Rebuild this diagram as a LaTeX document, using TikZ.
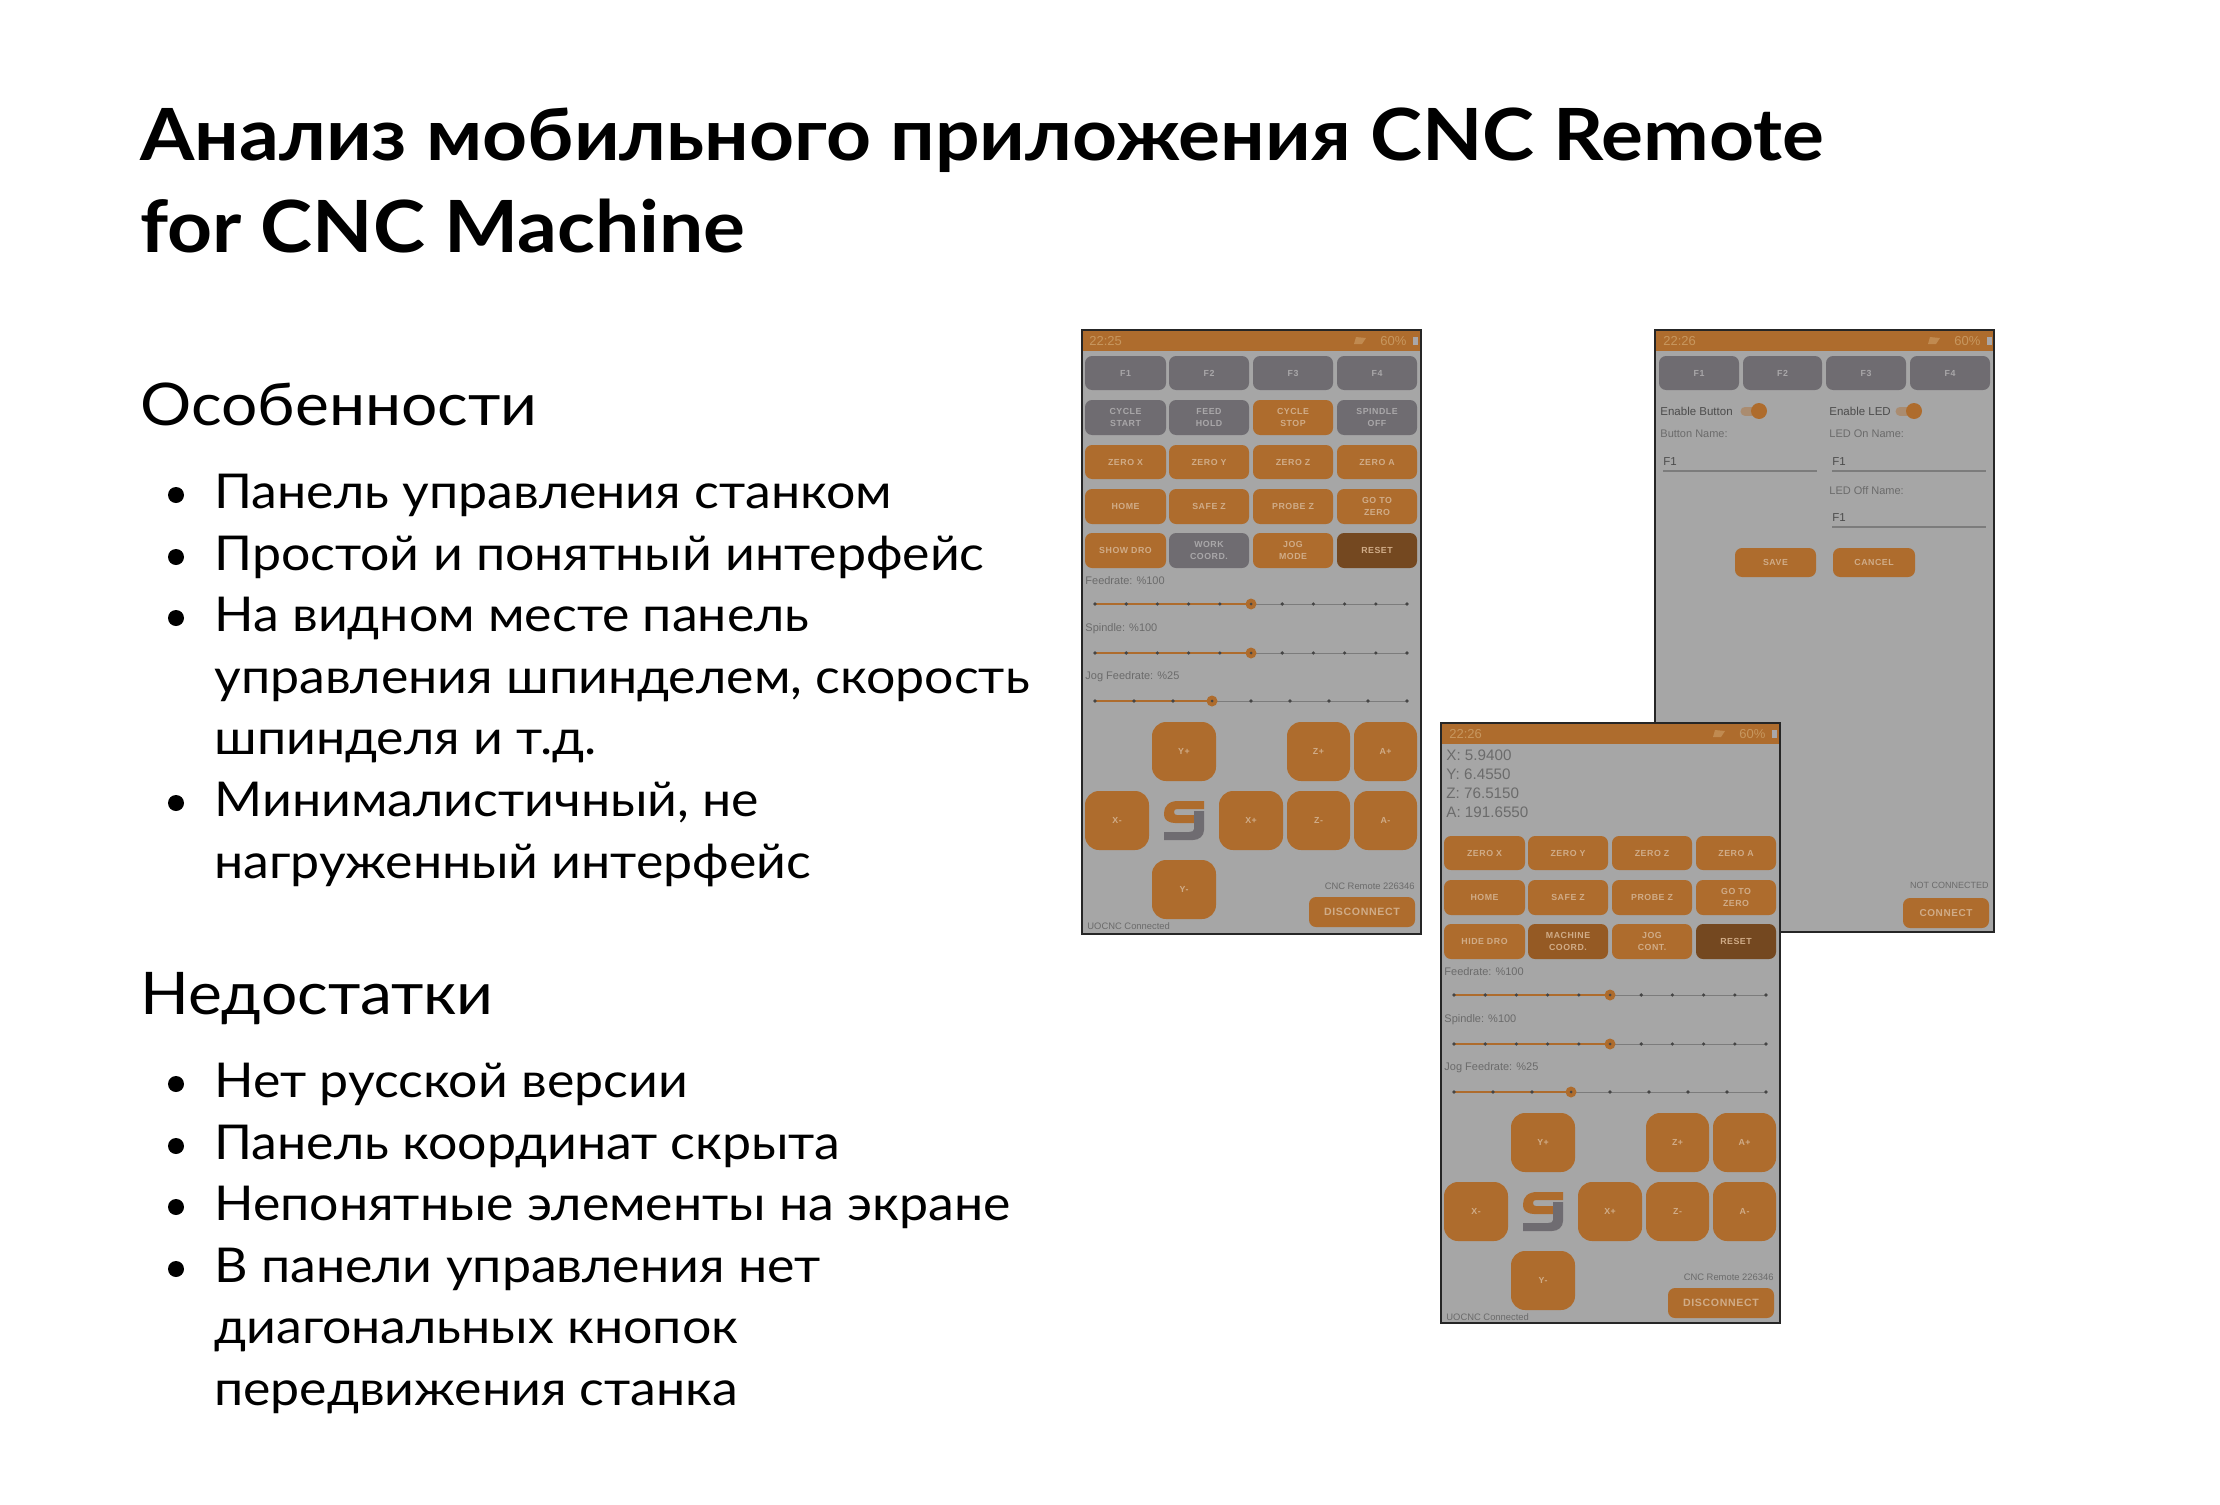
\documentclass[tikz,border=0pt]{standalone}
\usepackage{fontspec}
\setmainfont{Lato}[FakeStretch=1.09]
\newfontfamily\itemfont{Lato}[FakeStretch=1.08]
\newfontfamily\uifont[LetterSpace=6]{Liberation Sans}
\newfontfamily\uifontb[LetterSpace=6]{Liberation Sans Bold}
\newfontfamily\lblfont{Liberation Sans}
\definecolor{screenbg}{HTML}{A6A6A6}
\definecolor{barorange}{HTML}{AE6C2D}
\definecolor{btnorange}{HTML}{AE6C2D}
\definecolor{btngrey}{HTML}{6F6C71}
\definecolor{btndark}{HTML}{744820}
\definecolor{btnmid}{HTML}{955A24}
\definecolor{lblon}{HTML}{D0AC88}
\definecolor{lblbar}{HTML}{C7975F}
\definecolor{lblgrey}{HTML}{A9A7A9}
\definecolor{txtgrey}{HTML}{6B6B6B}
\definecolor{txtdark}{HTML}{4C4C4C}
\definecolor{tickdark}{HTML}{454545}
\definecolor{linegrey}{HTML}{7C7C7C}
\newcommand\pfx{p}
\newcommand\Btn[7]{%
  \pgfmathsetmacro\bw{(#4-#2)*0.5}\pgfmathsetmacro\bh{(#5-#3)*0.5}%
  \node[btnbase,#6,minimum width=\bw pt,minimum height=\bh pt] (\pfx#1) at ({(#2+#4)/2},{(#3+#5)/2}) {#7};}
\newcommand\Slider[3]{%
  \draw[trackoff] (1095,#2) -- (1407,#2);
  \draw[trackon] (1095,#2) -- (#3,#2);
}
\newcommand\Ticks[2]{%
  \foreach \tx in {#2} {\fill[tickdark] (\tx,#1) circle (1.8);}}
\newcommand\Thumb[3]{%
  \node[thumbdot] (\pfx#1) at (#2,#3) {};
  \fill[tickdark] (#2,#3) circle (1.5);}
\newcommand\Lower[4]{%
  \Btn{zx}{1085}{445}{1166}{479}{oran}{ZERO X}
  \Btn{zy}{1169}{445}{1249}{479}{oran}{ZERO Y}
  \Btn{zz}{1253}{445}{1333}{479}{oran}{ZERO Z}
  \Btn{za}{1337}{445}{1417}{479}{oran}{ZERO A}
  \Btn{home}{1085}{489}{1166}{524}{oran}{HOME}
  \Btn{safe}{1169}{489}{1249}{524}{oran}{SAFE Z}
  \Btn{probe}{1253}{489}{1333}{524}{oran}{PROBE Z}
  \Btn{goto}{1337}{489}{1417}{524}{oran}{GO TO\\ZERO}
  \Btn{dro}{1085}{533}{1166}{568}{oran}{#1}
  \Btn{coord}{1169}{533}{1249}{568}{#3}{#2}
  \Btn{jogb}{1253}{533}{1333}{568}{oran}{JOG\\#4}
  \Btn{reset}{1337}{533}{1417}{568}{dark}{RESET}
  \node[lbl,anchor=west] (\pfx feed) at (1085,581) {Feedrate: \%100};
  \Slider{f}{604}{1251}
  \Ticks{604}{1095,1126.2,1157.4,1188.6,1219.8,1282.2,1313.4,1344.6,1375.8,1407}
  \Thumb{ft}{1251}{604}
  \node[lbl,anchor=west] (\pfx spin) at (1085,629) {Spindle: \%100};
  \Slider{s}{653}{1251}
  \Ticks{653}{1095,1126.2,1157.4,1188.6,1219.8,1282.2,1313.4,1344.6,1375.8,1407}
  \Thumb{st}{1251}{653}
  \node[lbl,anchor=west] (\pfx jog) at (1085,677) {Jog Feedrate: \%25};
  \Slider{j}{701}{1212}
  \Ticks{701}{1095,1134,1173,1251,1290,1329,1368,1407}
  \Thumb{jt}{1212}{701}
  \Btn{yp}{1152}{722}{1216}{781}{jogbtn}{Y+}
  \Btn{zp}{1287}{722}{1350}{781}{jogbtn}{Z+}
  \Btn{ap}{1354}{722}{1417}{781}{jogbtn}{A+}
  \Btn{xm}{1085}{791}{1149}{850}{jogbtn}{X-}
  \Btn{xp}{1219}{791}{1283}{850}{jogbtn}{X+}
  \Btn{zm}{1287}{791}{1350}{850}{jogbtn}{Z-}
  \Btn{am}{1354}{791}{1417}{850}{jogbtn}{A-}
  \Btn{ym}{1152}{860}{1216}{919}{jogbtn}{Y-}
  \fill[btnorange] (1204,801) -- (1178,801) .. controls (1169,801) and (1164,806) .. (1164,813)
     -- (1164,815) .. controls (1164,820) and (1169,823) .. (1175,823) -- (1194,823) -- (1194,815)
     -- (1177,815) .. controls (1175,815) and (1174,814) .. (1174,812)
     .. controls (1174,810) and (1175,809) .. (1177,809) -- (1204,809) -- cycle;
  \fill[btngrey] (1194,811) -- (1204,811) -- (1204,830) .. controls (1204,836) and (1199,840) .. (1193,840)
     -- (1164,840) -- (1164,832) -- (1189,832) .. controls (1192,832) and (1194,831) .. (1194,829) -- cycle;
  \node[lblsmall,anchor=east] (\pfx ver) at (1415,886) {CNC Remote 226346};
  \Btn{disc}{1309}{897}{1415}{927}{oran,font=\uifontb\fontsize{5.3}{7}\selectfont}{DISCONNECT}
  \node[lblsmall,anchor=west] (\pfx conn) at (1087,926) {UOCNC Connected};
}
\newcommand\StatusIcons[2]{%
  \node[statustxt,anchor=west] (\pfx pct) at (#1,#2) {60\%};
  \fill[lblgrey] (#1+33,#2-4) rectangle (#1+38,#2+4);
  \fill[lblbar!70!barorange] (#1-26,#2+3) -- (#1-18,#2+3) -- (#1-14,#2-3) -- (#1-24,#2-4) -- cycle;
}
\begin{document}
\begin{tikzpicture}[x=0.5pt,y=-0.5pt,
  ttl/.style={inner sep=0,anchor=base west,font=\fontsize{36}{40}\bfseries\selectfont},
  sect/.style={inner sep=0,anchor=base west,font=\fontsize{29.4}{32}\selectfont},
  item/.style={inner sep=0,anchor=base west,font=\itemfont\fontsize{24}{28}\selectfont},
  bul/.style={circle,fill=black,inner sep=0,minimum size=8pt},
  frm/.style={draw=black!85,line width=1pt},
  screen/.style={fill=screenbg},
  btnbase/.style={inner sep=0,outer sep=0,align=center,rounded corners=3.5pt,text=lblon,
     font=\uifontb\fontsize{4.4}{6}\selectfont},
  oran/.style={fill=btnorange},
  gray/.style={fill=btngrey,text=lblgrey},
  dark/.style={fill=btndark},
  midb/.style={fill=btnmid},
  jogbtn/.style={fill=btnorange,rounded corners=7pt},
  lbl/.style={inner sep=0,text=txtgrey,font=\lblfont\fontsize{5.5}{7}\selectfont},
  lblsmall/.style={inner sep=0,text=txtgrey,font=\lblfont\fontsize{4.7}{6}\selectfont},
  lbldark/.style={inner sep=0,text=txtdark,font=\lblfont\fontsize{5.75}{7}\selectfont},
  statustxt/.style={inner sep=0,text=lblbar,font=\lblfont\fontsize{6.5}{8}\selectfont},
  trackoff/.style={draw=linegrey,line width=0.45pt},
  trackon/.style={draw=btnorange,line width=0.8pt},
  thumbdot/.style={circle,fill=btnorange,inner sep=0,minimum size=5.5pt},
  uline/.style={draw=linegrey,line width=0.7pt},
]
\useasboundingbox (0,0) rectangle (2220,1504);
\fill[white] (0,0) rectangle (2220,1504);

% title
\node[ttl] (t1) at (140,160) {Анализ мобильного приложения CNC Remote};
\node[ttl] (t2) at (140,252) {for CNC Machine};

% lists
\node[sect] (h1) at (140,425) {Особенности};
\node[item] (a1) at (214,508) {Панель управления станком};
\node[item] (a2) at (214,570) {Простой и понятный интерфейс};
\node[item] (a3) at (214,631) {На видном месте панель};
\node[item] (a3b) at (214,693) {управления шпинделем, скорость};
\node[item] (a3c) at (214,754) {шпинделя и т.д.};
\node[item] (a4) at (214,816) {Минималистичный, не};
\node[item] (a4b) at (214,878) {нагруженный интерфейс};
\node[bul] (ba1) at (176,495) {};
\node[bul] (ba2) at (176,557) {};
\node[bul] (ba3) at (176,618) {};
\node[bul] (ba4) at (176,803) {};

\node[sect] (h2) at (140,1014) {Недостатки};
\node[item] (b1) at (214,1097) {Нет русской версии};
\node[item] (b2) at (214,1159) {Панель координат скрыта};
\node[item] (b3) at (214,1220) {Непонятные элементы на экране};
\node[item] (b4) at (214,1282) {В панели управления нет};
\node[item] (b4b) at (214,1343) {диагональных кнопок};
\node[item] (b4c) at (214,1405) {передвижения станка};
\node[bul] (bb1) at (176,1084) {};
\node[bul] (bb2) at (176,1146) {};
\node[bul] (bb3) at (176,1207) {};
\node[bul] (bb4) at (176,1269) {};

% phone 1
\renewcommand\pfx{m}
\fill[screen] (1082,330) rectangle (1421,934);
\fill[barorange] (1082,330) rectangle (1421,351);
\node[statustxt,anchor=west] (mtime) at (1089,341) {22:25};
\StatusIcons{1380}{341}
\Btn{f1}{1085}{356}{1166}{390}{gray}{F1}
\Btn{f2}{1169}{356}{1249}{390}{gray}{F2}
\Btn{f3}{1253}{356}{1333}{390}{gray}{F3}
\Btn{f4}{1337}{356}{1417}{390}{gray}{F4}
\Btn{cs}{1085}{400}{1166}{435}{gray}{CYCLE\\START}
\Btn{fh}{1169}{400}{1249}{435}{gray}{FEED\\HOLD}
\Btn{cst}{1253}{400}{1333}{435}{oran}{CYCLE\\STOP}
\Btn{so}{1337}{400}{1417}{435}{gray}{SPINDLE\\OFF}
\Lower{SHOW DRO}{WORK\\COORD.}{gray}{MODE}
\draw[frm] (1082,330) rectangle (1421,934);

% phone 2
\renewcommand\pfx{s}
\fill[screen] (1655,330) rectangle (1994,932);
\fill[barorange] (1655,330) rectangle (1994,351);
\node[statustxt,anchor=west] (stime) at (1663,341) {22:26};
\StatusIcons{1954}{341}
\Btn{f1}{1659}{356}{1739}{390}{gray}{F1}
\Btn{f2}{1743}{356}{1822}{390}{gray}{F2}
\Btn{f3}{1826}{356}{1906}{390}{gray}{F3}
\Btn{f4}{1910}{356}{1990}{390}{gray}{F4}
\node[lbldark,anchor=west] (sen) at (1660,411) {Enable Button};
\draw[draw=btnorange!45!screenbg,line width=4.5pt,line cap=round] (1745,411) -- (1757,411);
\node[thumbdot,minimum size=8pt] (stg1) at (1759,411) {};
\node[lbldark,anchor=west] (sled) at (1829,411) {Enable LED};
\draw[draw=btnorange!45!screenbg,line width=4.5pt,line cap=round] (1900,411) -- (1913,411);
\node[thumbdot,minimum size=8pt] (stg2) at (1914,411) {};
\node[lbl,anchor=west] (sbn) at (1660,434) {Button Name:};
\node[lbl,anchor=west] (slon) at (1829,434) {LED On Name:};
\node[lbldark,anchor=west] (sv1) at (1663,462) {F1};
\node[lbldark,anchor=west] (sv2) at (1832,462) {F1};
\draw[uline] (1663,471) -- (1817,471);
\draw[uline] (1832,471) -- (1986,471);
\node[lbl,anchor=west] (sloff) at (1829,491) {LED Off Name:};
\node[lbldark,anchor=west] (sv3) at (1832,518) {F1};
\draw[uline] (1832,527) -- (1986,527);
\Btn{save}{1735}{548}{1816}{577}{oran}{SAVE}
\Btn{cancel}{1833}{548}{1915}{577}{oran}{CANCEL}
\node[lblsmall,anchor=east,font=\lblfont\fontsize{4.5}{6}\selectfont] (snc) at (1989,885) {NOT CONNECTED};
\Btn{conn}{1903}{898}{1989}{928}{oran,font=\uifontb\fontsize{5}{7}\selectfont}{CONNECT}
\draw[frm] (1655,330) rectangle (1994,932);

% phone 3
\renewcommand\pfx{d}
\fill[screen] (1441,723) rectangle (1780,1323);
\fill[barorange] (1441,723) rectangle (1780,744);
\node[statustxt,anchor=west] (dtime) at (1449,734) {22:26};
\begin{scope}[shift={(359,393)}]
\StatusIcons{1380}{341}
\end{scope}
\node[lbl,anchor=west,font=\lblfont\fontsize{7.6}{9}\selectfont] (dx) at (1446,755) {X: 5.9400};
\node[lbl,anchor=west,font=\lblfont\fontsize{7.6}{9}\selectfont] (dy) at (1446,774) {Y: 6.4550};
\node[lbl,anchor=west,font=\lblfont\fontsize{7.6}{9}\selectfont] (dz) at (1446,793) {Z: 76.5150};
\node[lbl,anchor=west,font=\lblfont\fontsize{7.6}{9}\selectfont] (da) at (1446,812) {A: 191.6550};
\begin{scope}[shift={(359,391)}]
\Lower{HIDE DRO}{MACHINE\\COORD.}{midb}{CONT.}
\end{scope}
\draw[frm] (1441,723) rectangle (1780,1323);
\end{tikzpicture}
\end{document}
